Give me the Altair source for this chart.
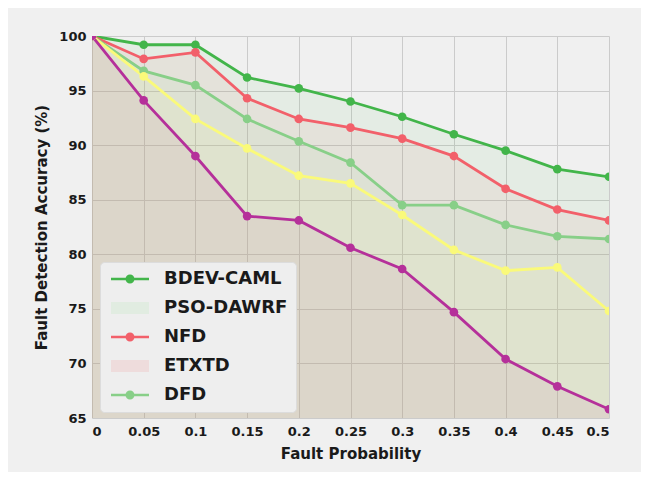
import altair as alt
import pandas as pd

fault_prob = [0, 0.05, 0.1, 0.15, 0.2, 0.25, 0.3, 0.35, 0.4, 0.45, 0.5]

bdev_caml = [100, 99.2, 99.2, 96.2, 95.2, 94.0, 92.6, 91.0, 89.5, 87.8, 87.1]
nfd = [100, 97.9, 98.5, 94.3, 92.4, 91.6, 90.6, 89.0, 86.0, 84.1, 83.1]
dfd = [100, 96.8, 95.5, 92.4, 90.35, 88.4, 84.5, 84.5, 82.7, 81.65, 81.4]
series_yellow = [100, 96.3, 92.4, 89.7, 87.2, 86.5, 83.6, 80.4, 78.5, 78.8, 74.8]
series_magenta = [100, 94.1, 89.0, 83.5, 83.1, 80.6, 78.65, 74.7, 70.4, 67.9, 65.8]

series_names = ["BDEV-CAML", "NFD", "DFD", "s4", "s5"]
series_values = [bdev_caml, nfd, dfd, series_yellow, series_magenta]
series_colors = ["#42b54a", "#f2606a", "#88cf88", "#fafa7a", "#b5309a"]

legend_labels = ["BDEV-CAML", "PSO-DAWRF", "NFD", "ETXTD", "DFD"]
legend_colors = ["#42b54a", "#e1ece1", "#f2606a", "#eedcdc", "#88cf88"]
line_dot = ("M-3.8,-0.26H3.8V0.26H-3.8Z "
            "M0.9,0A0.9,0.9,0,1,1,-0.9,0A0.9,0.9,0,1,1,0.9,0Z")
patch = "M-3.8,-1.2H3.8V1.2H-3.8Z"
legend_shapes = [line_dot, patch, line_dot, patch, line_dot]

y_ticks = [65, 70, 75, 80, 85, 90, 95, 100]

rows = []
for order, (name, vals, col) in enumerate(zip(series_names, series_values, series_colors)):
    for x, y in zip(fault_prob, vals):
        rows.append({"series": name, "x": x, "y": y, "col": col, "order": order})
df = pd.DataFrame(rows)

font = "DejaVu Sans"

xenc = alt.X("x:Q", scale=alt.Scale(domain=[0, 0.5], nice=False),
             axis=alt.Axis(values=fault_prob, format="~g", title="Fault Probability",
                           grid=True, ticks=False, domain=False, labelPadding=7,
                           titlePadding=8))
yenc = alt.Y("y:Q", scale=alt.Scale(domain=[65, 100], nice=False, zero=False),
             axis=alt.Axis(values=y_ticks, title="Fault Detection Accuracy (%)",
                           grid=True, ticks=False, domain=False, labelPadding=6,
                           titlePadding=9))

base = alt.Chart(df)

leg_df = pd.DataFrame({"label": legend_labels})
legend_params = dict(
    title=None, orient="none", legendX=8, legendY=226, padding=8,
    fillColor="#eeeeee", strokeColor="#dcdcdc", cornerRadius=4,
    labelFont=font, labelFontWeight="bold", labelFontSize=18, labelColor="#1a1a1a",
    symbolSize=100, symbolOffset=13, labelOffset=25, rowPadding=11,
    symbolStrokeWidth=0, symbolOpacity=1,
)
legend_layer = alt.Chart(leg_df).mark_point(filled=True, opacity=1).encode(
    x=alt.X("x0:Q", scale=alt.Scale(domain=[0, 0.5], nice=False)),
    y=alt.Y("y0:Q", scale=alt.Scale(domain=[65, 100], nice=False, zero=False)),
    color=alt.Color("label:N", scale=alt.Scale(domain=legend_labels, range=legend_colors),
                    legend=alt.Legend(**legend_params)),
    shape=alt.Shape("label:N", scale=alt.Scale(domain=legend_labels, range=legend_shapes),
                    legend=alt.Legend(**legend_params)),
).transform_filter("datum.label == 'none'").transform_calculate(x0="0", y0="65")

areas = base.mark_area(fillOpacity=0.07, clip=True).encode(
    x=xenc, y=yenc, y2=alt.datum(65),
    color=alt.Color("col:N", scale=None), detail="series:N"
)

lines = base.mark_line(strokeWidth=2.8, clip=True).encode(
    x="x:Q", y="y:Q", color=alt.Color("col:N", scale=None), detail="series:N",
    order="x:Q"
)

points = base.mark_point(filled=True, size=75, opacity=1, clip=True).encode(
    x="x:Q", y="y:Q", color=alt.Color("col:N", scale=None)
)

chart = alt.layer(legend_layer, areas, lines, points).properties(
    width=517, height=382,
    autosize=alt.AutoSizeParams(type="none"),
    padding={"left": 84, "top": 28, "right": 32, "bottom": 54},
    background="#f0f0f0",
).configure_view(stroke=None).configure_axis(
    labelFont=font, labelFontWeight="bold", labelFontSize=13, labelColor="#1a1a1a",
    titleFont=font, titleFontWeight="bold", titleFontSize=15, titleColor="#1a1a1a",
    gridColor="#cbcbcb", gridWidth=1,
)

chart.save("out.html", embed_options={"renderer": "svg", "actions": False})
